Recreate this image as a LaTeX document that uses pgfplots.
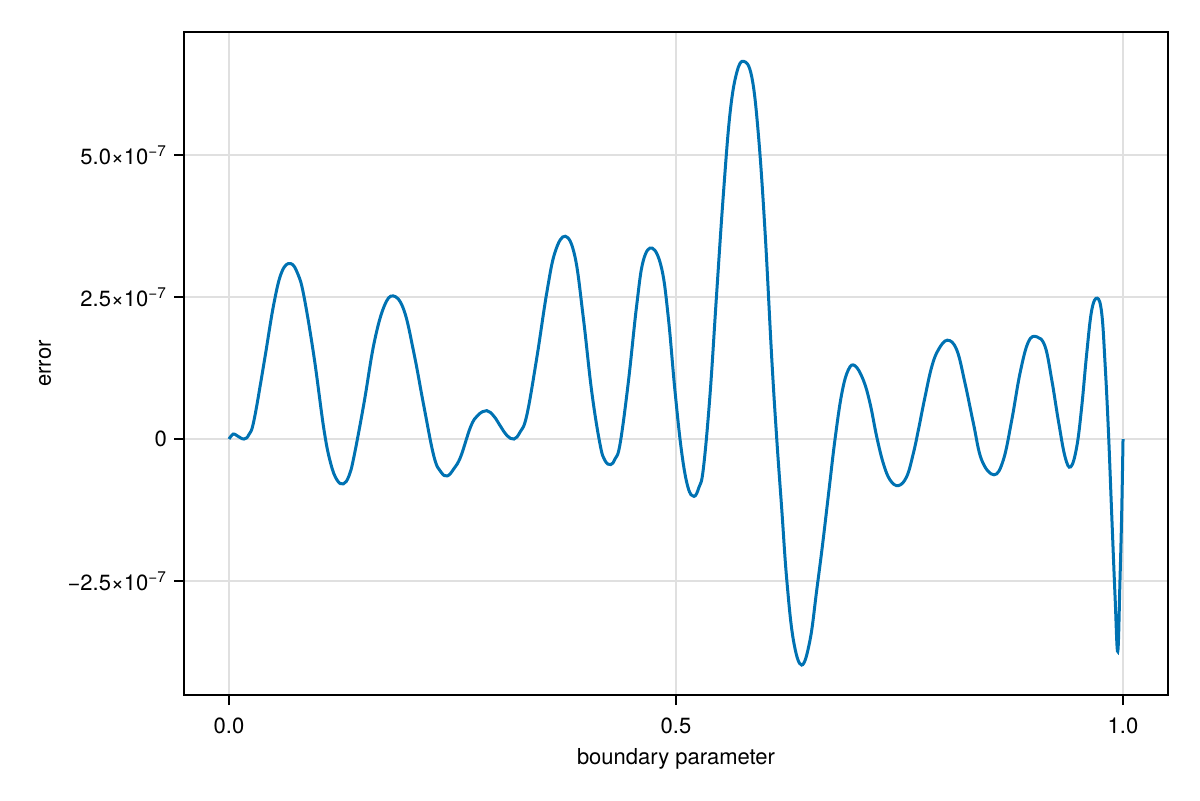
\documentclass[border=0pt]{standalone}
\usepackage{pgfplots}
\pgfplotsset{compat=1.18}
\usepackage{fontspec}
\setmainfont{TeX Gyre Heros}
\definecolor{mkblue}{RGB}{0,114,178}
\definecolor{gridc}{RGB}{224,224,224}
\begin{document}
\begin{tikzpicture}[font=\fontsize{11}{13}\selectfont]
\path[use as bounding box] (-92pt,-52.5pt) rectangle (508pt,347.5pt);
\begin{axis}[
  at={(0,0)}, anchor=south west,
  scale only axis, width=492pt, height=331.5pt,
  xmin=-0.0503, xmax=1.0503, ymin=-4.507, ymax=7.166,
  xtick={0,0.5,1}, xticklabels={0.0,0.5,1.0},
  ytick={-2.5,0,2.5,5},
  yticklabels={−2.5×10\textsuperscript{−7},0,2.5×10\textsuperscript{−7},5.0×10\textsuperscript{−7}},
  tick align=outside, major tick length=5pt,
  tick style={black, line width=1pt},
  axis line style={black, line width=1pt},
  xtick pos=bottom, ytick pos=left,
  xticklabel style={yshift=-3pt},
  grid=major, major grid style={gridc, line width=1pt},
  xlabel={boundary parameter}, ylabel={error},
  xlabel style={at={(axis description cs:0.5,0)}, anchor=center, yshift=-32pt},
  ylabel style={at={(axis description cs:0,0.5)}, anchor=center, yshift=69.5pt},
  /pgf/number format/assume math mode=true,
]
\addplot[mkblue, line width=1.5pt, smooth, tension=0.65] table {
x y
0.0000 0.000
0.0048 0.088
0.0089 0.060
0.0168 0.000
0.0224 0.080
0.0280 0.330
0.0391 1.330
0.0503 2.390
0.0593 2.950
0.0690 3.090
0.0772 2.900
0.0839 2.510
0.0951 1.450
0.1063 0.160
0.1138 -0.430
0.1208 -0.720
0.1279 -0.790
0.1342 -0.650
0.1398 -0.310
0.1510 0.630
0.1622 1.680
0.1734 2.330
0.1838 2.520
0.1957 2.270
0.2069 1.510
0.2181 0.570
0.2293 -0.310
0.2371 -0.580
0.2442 -0.650
0.2517 -0.520
0.2592 -0.310
0.2704 0.220
0.2785 0.420
0.2883 0.500
0.2964 0.400
0.3039 0.220
0.3110 0.060
0.3188 0.000
0.3255 0.120
0.3330 0.410
0.3442 1.420
0.3554 2.570
0.3647 3.290
0.3762 3.570
0.3870 3.210
0.3963 2.140
0.4057 0.840
0.4150 -0.090
0.4206 -0.380
0.4270 -0.450
0.4318 -0.350
0.4374 -0.090
0.4466 0.990
0.4560 2.350
0.4634 3.140
0.4735 3.360
0.4840 3.000
0.4914 2.140
0.4989 0.840
0.5064 -0.240
0.5134 -0.850
0.5201 -1.010
0.5257 -0.850
0.5306 -0.520
0.5380 0.770
0.5455 2.570
0.5529 4.290
0.5604 5.730
0.5679 6.450
0.5757 6.650
0.5847 6.380
0.5921 5.370
0.5996 3.650
0.6071 1.420
0.6127 0.000
0.6183 -1.240
0.6239 -2.480
0.6313 -3.540
0.6406 -3.980
0.6499 -3.540
0.6574 -2.660
0.6640 -1.850
0.6711 -0.900
0.6779 0.000
0.6854 0.800
0.6928 1.220
0.7002 1.290
0.7095 1.040
0.7170 0.630
0.7245 0.040
0.7319 -0.430
0.7394 -0.720
0.7487 -0.820
0.7581 -0.660
0.7655 -0.250
0.7711 0.160
0.7785 0.740
0.7860 1.270
0.7934 1.570
0.8035 1.740
0.8140 1.570
0.8233 0.980
0.8326 0.280
0.8419 -0.370
0.8557 -0.630
0.8661 -0.370
0.8755 0.330
0.8848 1.160
0.8941 1.710
0.9035 1.800
0.9128 1.630
0.9203 1.040
0.9276 0.330
0.9351 -0.310
0.9415 -0.490
0.9482 -0.140
0.9538 0.570
0.9594 1.510
0.9650 2.270
0.9712 2.480
0.9762 2.210
0.9799 1.330
0.9836 0.160
0.9873 -1.310
0.9911 -2.780
0.9941 -3.740
0.9966 -2.480
0.9985 -1.310
1.0000 0.000
};
\end{axis}
\end{tikzpicture}
\end{document}
